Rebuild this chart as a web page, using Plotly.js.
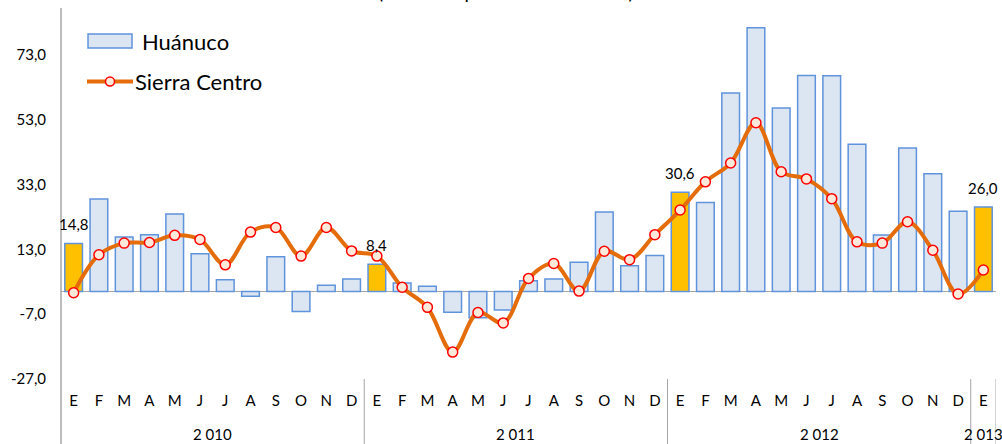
<!DOCTYPE html>
<html>
<head>
<meta charset="utf-8">
<script src="https://cdn.plot.ly/plotly-3.0.1.min.js"></script>
<style>
html,body{margin:0;padding:0;background:#fff;}
#chart{width:1002px;height:444px;}
</style>
</head>
<body>
<div id="chart"></div>
<script>
// ---- data ----
const monthLetters = ['E','F','M','A','M','J','J','A','S','O','N','D'];
const yearLabels = ['2 010','2 011','2 012','2 013'];
const monthsPerYear = [12, 12, 12, 1];
const huanuco = [14.8, 28.5, 16.8, 17.5, 23.9, 11.6, 3.6, -1.5, 10.7, -6.2, 1.9, 3.8,
                 8.4, 2.6, 1.6, -6.4, -8.1, -5.7, 3.3, 3.8, 9.0, 24.5, 7.9, 11.1,
                 30.6, 27.4, 61.2, 81.3, 56.6, 66.6, 66.5, 45.4, 17.4, 44.2, 36.3, 24.7,
                 26.0];
const sierraCentro = [-0.4, 11.3, 14.9, 15.1, 17.3, 16.0, 8.2, 18.3, 19.7, 10.9, 19.7, 12.5,
                      10.9, 1.3, -4.9, -18.7, -6.5, -9.7, 4.0, 8.6, 0.1, 12.4, 9.8, 17.5,
                      25.1, 33.8, 39.6, 52.0, 36.9, 34.7, 28.6, 15.3, 14.9, 21.5, 12.7, -0.8,
                      6.6];
const yTickVals = [-27, -7, 13, 33, 53, 73];
const seriesNames = ['Huánuco', 'Sierra Centro'];
const titleText = '(Var. % respecto al mismo mes)';

// ---- build categories ----
const cats = [], catText = [], catYear = [];
yearLabels.forEach((y, yi) => {
  for (let m = 0; m < monthsPerYear[yi]; m++) {
    cats.push(y + '-' + (m + 1));
    catText.push(monthLetters[m]);
    catYear.push(yi);
  }
});

const FONT = 'Lato, "Open Sans", sans-serif';
const BAR_FILL = '#DCE6F2', BAR_LINE = '#5F93DB', HILITE = '#FFC000';
const ORANGE = '#E46C0A', AXIS = '#A6A6A6';

// plot area in pixels
const L = 61, R = 996, T = 8, B = 379;
const px = x => (x - L) / (R - L);
const py = y => (B - y) / (B - T);

const barColors = catText.map(t => (t === 'E' ? HILITE : BAR_FILL));

const traces = [
  {
    type: 'bar', name: seriesNames[0], x: cats, y: huanuco,
    marker: {color: barColors, line: {color: BAR_LINE, width: 1.5}},
    showlegend: false, hoverinfo: 'x+y'
  },
  {
    type: 'scatter', mode: 'lines+markers', name: seriesNames[1], x: cats, y: sierraCentro,
    line: {color: ORANGE, width: 4, shape: 'spline', smoothing: 1},
    marker: {symbol: 'circle', size: 10, color: '#FDE9D9', line: {color: '#FF0000', width: 1.5}},
    showlegend: false
  }
];

const annotations = [];
// data labels on January bars
catText.forEach((t, i) => {
  if (t === 'E') {
    annotations.push({
      x: cats[i], y: huanuco[i], xref: 'x', yref: 'y',
      text: huanuco[i].toFixed(1).replace('.', ','),
      showarrow: false, yanchor: 'bottom', yshift: 8,
      font: {family: FONT, size: 15, color: '#000'}
    });
  }
});
// year labels
yearLabels.forEach((y, yi) => {
  const idx = catYear.map((v, i) => v === yi ? i : -1).filter(v => v >= 0);
  const mid = (idx[0] + idx[idx.length - 1]) / 2;
  annotations.push({
    x: mid, y: py(434), xref: 'x', yref: 'paper', text: y, showarrow: false,
    yanchor: 'middle', xanchor: 'center',
    font: {family: FONT, size: 15, color: '#000'}
  });
});
// legend text
annotations.push({x: px(140), y: py(41.5), xref: 'paper', yref: 'paper', text: seriesNames[0],
  showarrow: false, xanchor: 'left', yanchor: 'middle', font: {family: FONT, size: 22, color: '#000'}});
annotations.push({x: px(133), y: py(81.5), xref: 'paper', yref: 'paper', text: seriesNames[1],
  showarrow: false, xanchor: 'left', yanchor: 'middle', font: {family: FONT, size: 22, color: '#000'}});
// title (cropped at top in the reference: only its lowest pixels show)
annotations.push({x: px(506), y: py(5), xref: 'paper', yref: 'paper', text: titleText,
  showarrow: false, xanchor: 'center', yanchor: 'bottom', font: {family: FONT, size: 19, color: '#000'}});

const shapes = [];
// y axis line, extending through the label band
shapes.push({type: 'line', xref: 'paper', yref: 'paper', x0: 0, x1: 0, y0: py(446), y1: 1,
  line: {color: AXIS, width: 1.5}});
// year dividers in the label band
const dividers = [];
let acc = 0;
monthsPerYear.forEach(n => { acc += n; dividers.push(acc - 0.5); });
dividers.forEach(d => {
  shapes.push({type: 'line', xref: 'x', yref: 'paper', x0: d, x1: d, y0: py(446), y1: 0,
    line: {color: AXIS, width: 1}});
});
// legend symbols
shapes.push({type: 'rect', xref: 'paper', yref: 'paper', x0: px(88), x1: px(132), y0: py(48), y1: py(34),
  fillcolor: BAR_FILL, line: {color: BAR_LINE, width: 1.5}});
shapes.push({type: 'line', xref: 'paper', yref: 'paper', x0: px(87), x1: px(133), y0: py(81.5), y1: py(81.5),
  line: {color: ORANGE, width: 4}});
shapes.push({type: 'circle', xref: 'paper', yref: 'paper', x0: px(105.5), x1: px(114.5), y0: py(86), y1: py(77),
  fillcolor: '#FDE9D9', line: {color: '#FF0000', width: 1.5}});

const layout = {
  width: 1002, height: 444,
  margin: {l: L, r: 1002 - R, t: T, b: 444 - B, pad: 0},
  paper_bgcolor: '#fff', plot_bgcolor: '#fff',
  bargap: 0.3,
  showlegend: false,
  font: {family: FONT, color: '#000'},
  xaxis: {
    type: 'category', categoryorder: 'array', categoryarray: cats,
    range: [-0.5, cats.length - 0.5],
    tickvals: cats, ticktext: catText, tickfont: {family: FONT, size: 15, color: '#000'},
    showgrid: false, zeroline: false, showline: false, ticks: '', ticklabelstandoff: 11
  },
  yaxis: {
    range: [-27, 87.4], tickvals: yTickVals,
    ticktext: yTickVals.map(v => v.toFixed(1).replace('.', ',')),
    tickfont: {family: FONT, size: 15, color: '#000'},
    showgrid: false, showline: false, ticks: '', ticklabelstandoff: 14,
    zeroline: true, zerolinecolor: AXIS, zerolinewidth: 1.5
  },
  annotations: annotations,
  shapes: shapes
};

Plotly.newPlot('chart', traces, layout, {displayModeBar: false, staticPlot: true});
</script>
</body>
</html>
